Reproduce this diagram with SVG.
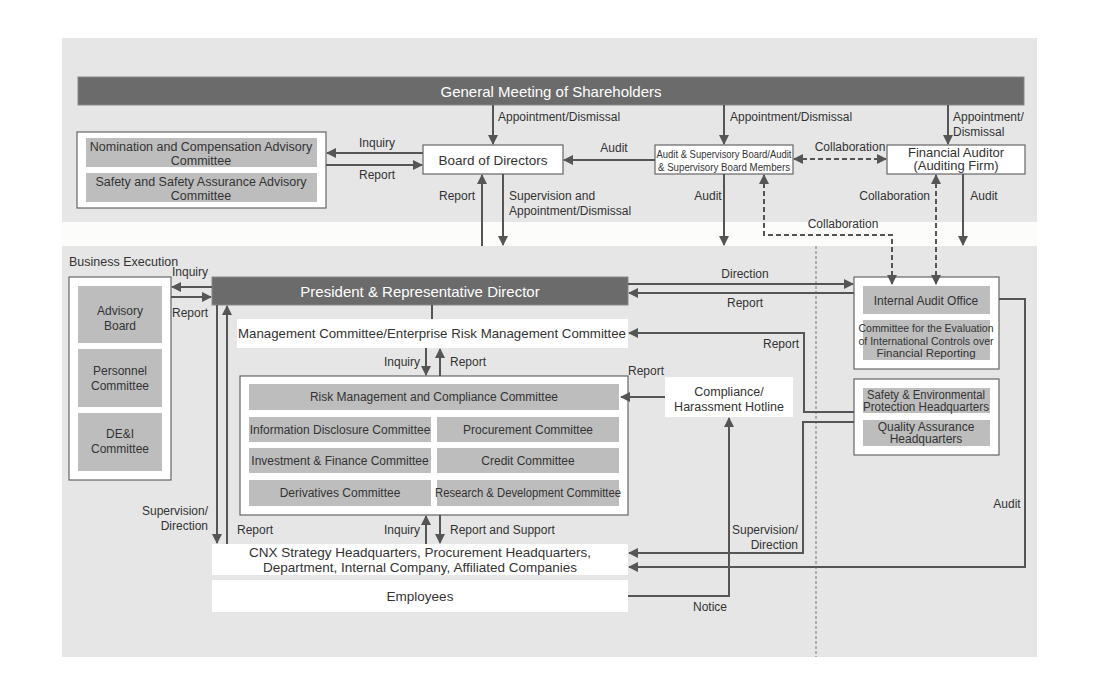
<svg xmlns="http://www.w3.org/2000/svg" width="1100" height="695" viewBox="0 0 1100 695">
<defs>
<style>
.t{font-family:"Liberation Sans",Arial,sans-serif;font-size:12px;fill:#333}
.c{text-anchor:middle}
.e{text-anchor:end}
.w{fill:#fff}
.s11{font-size:11px}
.s115{font-size:11.5px}
.s125{font-size:12.5px}
.s13{font-size:13px}
.s135{font-size:13.5px}
.s15{font-size:15px}
.box{fill:#fff;stroke:#666;stroke-width:1.2}
.wb{fill:#fff}
.g{fill:#bdbdbd}
.dk{fill:#6b6b6b;stroke:#888;stroke-width:1}
.ln{fill:none;stroke:#555;stroke-width:2}
.da{fill:none;stroke:#555;stroke-width:2;stroke-dasharray:5,3}
</style>
<marker id="ah" viewBox="0 0 10 10" refX="9" refY="5" markerWidth="10" markerHeight="10" markerUnits="userSpaceOnUse" orient="auto-start-reverse"><path d="M0,0 L10,5 L0,10 z" fill="#555"/></marker>
</defs>
<rect width="1100" height="695" fill="#fff"/>
<rect x="62" y="38" width="975" height="619" fill="#e6e6e6"/>
<rect x="62" y="222" width="975" height="24" fill="#fcfcfa"/>
<line x1="816" y1="246" x2="816" y2="657" stroke="#777" stroke-width="1" stroke-dasharray="3,2"/>

<g id="gms"><rect class="dk" x="78" y="77" width="946" height="28"/><text class="t c w s15" x="551" y="97">General Meeting of Shareholders</text></g>

<g id="advisory"><rect class="box" x="77" y="132" width="249" height="76"/>
<rect class="g" x="86" y="138" width="231" height="29"/><text class="t c s125" x="201" y="151">Nomination and Compensation Advisory</text><text class="t c s125" x="201" y="165">Committee</text>
<rect class="g" x="86" y="173" width="231" height="29"/><text class="t c s125" x="201" y="186">Safety and Safety Assurance Advisory</text><text class="t c s125" x="201" y="200">Committee</text></g>

<g id="board"><rect class="box" x="423" y="145" width="140" height="29"/><text class="t c s135" x="493" y="165">Board of Directors</text></g>

<g id="asb"><rect class="box" x="655" y="145" width="138" height="29"/><text class="t c s115" x="724" y="158" textLength="135" lengthAdjust="spacingAndGlyphs">Audit &amp; Supervisory Board/Audit</text><text class="t c s115" x="724" y="171" textLength="132" lengthAdjust="spacingAndGlyphs">&amp; Supervisory Board Members</text></g>

<g id="auditor"><rect class="box" x="887" y="145" width="138" height="29"/><text class="t c s13" x="956" y="157">Financial Auditor</text><text class="t c s13" x="956" y="170">(Auditing Firm)</text></g>

<text class="t s125" x="69" y="266">Business Execution</text>
<g id="bizexec"><rect class="box" x="69" y="277" width="102" height="203"/>
<rect class="g" x="78" y="286" width="84" height="57"/><text class="t c" x="120" y="315">Advisory</text><text class="t c" x="120" y="330">Board</text>
<rect class="g" x="78" y="349" width="84" height="58"/><text class="t c" x="120" y="375">Personnel</text><text class="t c" x="120" y="390">Committee</text>
<rect class="g" x="78" y="413" width="84" height="58"/><text class="t c" x="120" y="438">DE&amp;I</text><text class="t c" x="120" y="453">Committee</text></g>

<g id="president"><rect class="dk" x="212" y="277" width="416" height="28"/><text class="t c w s15" x="420" y="297">President &amp; Representative Director</text></g>

<g id="mgmt"><rect class="wb" x="237" y="319" width="391" height="29"/><text class="t c s135" x="432" y="338" textLength="388" lengthAdjust="spacingAndGlyphs">Management Committee/Enterprise Risk Management Committee</text></g>

<g id="committees"><rect class="box" x="240" y="376" width="388" height="139"/>
<rect class="g" x="249" y="384" width="370" height="26"/><text class="t c" x="434" y="401">Risk Management and Compliance Committee</text>
<rect class="g" x="249" y="417" width="182" height="25"/><text class="t c" x="340" y="434">Information Disclosure Committee</text>
<rect class="g" x="437" y="417" width="182" height="25"/><text class="t c" x="528" y="434">Procurement Committee</text>
<rect class="g" x="249" y="448" width="182" height="25"/><text class="t c" x="340" y="465">Investment &amp; Finance Committee</text>
<rect class="g" x="437" y="448" width="182" height="25"/><text class="t c" x="528" y="465">Credit Committee</text>
<rect class="g" x="249" y="480" width="182" height="26"/><text class="t c" x="340" y="497">Derivatives Committee</text>
<rect class="g" x="437" y="480" width="182" height="26"/><text class="t c" x="528" y="497" textLength="186" lengthAdjust="spacingAndGlyphs">Research &amp; Development Committee</text></g>

<g id="cnx"><rect class="wb" x="212" y="544" width="416" height="31"/><text class="t c s135" x="420" y="557">CNX Strategy Headquarters, Procurement Headquarters,</text><text class="t c s135" x="420" y="572">Department, Internal Company, Affiliated Companies</text></g>

<g id="employees"><rect class="wb" x="212" y="580" width="416" height="32"/><text class="t c s135" x="420" y="601">Employees</text></g>

<g id="hotline"><rect class="wb" x="665" y="377" width="128" height="40"/><text class="t c s125" x="729" y="396">Compliance/</text><text class="t c s125" x="729" y="411">Harassment Hotline</text></g>

<g id="internalaudit"><rect class="box" x="854" y="277" width="145" height="92"/>
<rect class="g" x="863" y="286" width="127" height="28"/><text class="t c" x="926" y="305">Internal Audit Office</text>
<rect class="g" x="863" y="320" width="127" height="40"/><text class="t c s115" x="926" y="332" textLength="135" lengthAdjust="spacingAndGlyphs">Committee for the Evaluation</text><text class="t c s115" x="926" y="345" textLength="135" lengthAdjust="spacingAndGlyphs">of International Controls over</text><text class="t c s115" x="926" y="357">Financial Reporting</text></g>

<g id="safety"><rect class="box" x="854" y="379" width="145" height="76"/>
<rect class="g" x="863" y="388" width="127" height="25"/><text class="t c" x="926" y="399" textLength="118" lengthAdjust="spacingAndGlyphs">Safety &amp; Environmental</text><text class="t c" x="926" y="411" textLength="126" lengthAdjust="spacingAndGlyphs">Protection Headquarters</text>
<rect class="g" x="863" y="420" width="127" height="26"/><text class="t c" x="926" y="431">Quality Assurance</text><text class="t c" x="926" y="443">Headquarters</text></g>

<g id="connectors">
<line class="ln" x1="493" y1="105" x2="493" y2="144" marker-end="url(#ah)"/>
<line class="ln" x1="724" y1="105" x2="724" y2="144" marker-end="url(#ah)"/>
<line class="ln" x1="948" y1="105" x2="948" y2="144" marker-end="url(#ah)"/>
<line class="ln" x1="423" y1="153" x2="327" y2="153" marker-end="url(#ah)"/>
<line class="ln" x1="326" y1="165" x2="422" y2="165" marker-end="url(#ah)"/>
<line class="ln" x1="655" y1="160" x2="564" y2="160" marker-end="url(#ah)"/>
<line class="da" x1="794" y1="159" x2="886" y2="159" marker-start="url(#ah)" marker-end="url(#ah)"/>
<line class="ln" x1="482" y1="246" x2="482" y2="175" marker-end="url(#ah)"/>
<line class="ln" x1="503" y1="174" x2="503" y2="245" marker-end="url(#ah)"/>
<line class="ln" x1="724" y1="174" x2="724" y2="245" marker-end="url(#ah)"/>
<line class="ln" x1="963" y1="174" x2="963" y2="245" marker-end="url(#ah)"/>
<polyline class="da" points="764,175 764,235 892,235 892,284" marker-start="url(#ah)" marker-end="url(#ah)"/>
<line class="da" x1="936" y1="175" x2="936" y2="284" marker-start="url(#ah)" marker-end="url(#ah)"/>
<line class="ln" x1="212" y1="287" x2="172" y2="287" marker-end="url(#ah)"/>
<line class="ln" x1="171" y1="297" x2="211" y2="297" marker-end="url(#ah)"/>
<line class="ln" x1="217" y1="305" x2="217" y2="543" marker-end="url(#ah)"/>
<line class="ln" x1="227" y1="544" x2="227" y2="306" marker-end="url(#ah)"/>
<line class="ln" x1="432" y1="305" x2="432" y2="319"/>
<line class="ln" x1="426" y1="348" x2="426" y2="375" marker-end="url(#ah)"/>
<line class="ln" x1="440" y1="376" x2="440" y2="349" marker-end="url(#ah)"/>
<line class="ln" x1="426" y1="544" x2="426" y2="516" marker-end="url(#ah)"/>
<line class="ln" x1="440" y1="515" x2="440" y2="543" marker-end="url(#ah)"/>
<line class="ln" x1="628" y1="284" x2="853" y2="284" marker-end="url(#ah)"/>
<line class="ln" x1="854" y1="293" x2="629" y2="293" marker-end="url(#ah)"/>
<polyline class="ln" points="854,412 804,412 804,333 629,333" marker-end="url(#ah)"/>
<line class="ln" x1="665" y1="397" x2="621" y2="397" marker-end="url(#ah)"/>
<polyline class="ln" points="628,596 729,596 729,418" marker-end="url(#ah)"/>
<polyline class="ln" points="854,422 803,422 803,553 629,553" marker-end="url(#ah)"/>
<polyline class="ln" points="999,299 1025,299 1025,567 629,567" marker-end="url(#ah)"/>
</g>

<g id="labels">
<text class="t" x="498" y="121">Appointment/Dismissal</text>
<text class="t" x="730" y="121">Appointment/Dismissal</text>
<text class="t" x="953" y="121">Appointment/</text>
<text class="t" x="953" y="136">Dismissal</text>
<text class="t c" x="377" y="147">Inquiry</text>
<text class="t c" x="377" y="179">Report</text>
<text class="t c" x="614" y="152">Audit</text>
<text class="t c" x="850" y="151">Collaboration</text>
<text class="t c" x="457" y="200">Report</text>
<text class="t" x="509" y="200">Supervision and</text>
<text class="t" x="509" y="215">Appointment/Dismissal</text>
<text class="t c" x="708" y="200">Audit</text>
<text class="t e" x="930" y="200">Collaboration</text>
<text class="t c" x="984" y="200">Audit</text>
<text class="t c" x="843" y="228">Collaboration</text>
<text class="t c" x="190" y="276">Inquiry</text>
<text class="t c" x="190" y="317">Report</text>
<text class="t c" x="745" y="278">Direction</text>
<text class="t c" x="745" y="307">Report</text>
<text class="t c" x="781" y="348">Report</text>
<text class="t c" x="646" y="375">Report</text>
<text class="t e" x="420" y="366">Inquiry</text>
<text class="t" x="450" y="366">Report</text>
<text class="t e" x="208" y="515">Supervision/</text>
<text class="t e" x="208" y="530">Direction</text>
<text class="t" x="237" y="534">Report</text>
<text class="t e" x="420" y="534">Inquiry</text>
<text class="t" x="450" y="534">Report and Support</text>
<text class="t e" x="798" y="534">Supervision/</text>
<text class="t e" x="798" y="549">Direction</text>
<text class="t c" x="710" y="611">Notice</text>
<text class="t c" x="1007" y="508">Audit</text>
</g>
</svg>
